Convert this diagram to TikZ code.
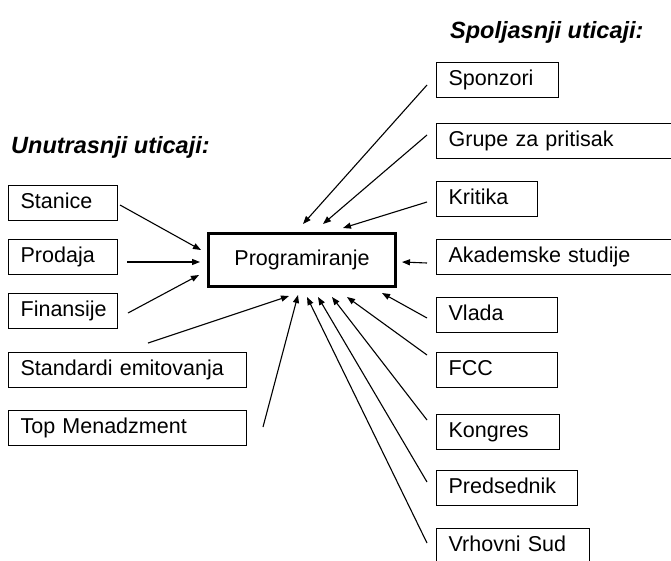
\documentclass[tikz,border=0pt]{standalone}
\usepackage{fontspec}
\setmainfont{Liberation Sans}
\usetikzlibrary{arrows.meta}
\tikzset{
  ibox/.style={draw, line width=1.3pt, anchor=north west, inner xsep=12pt, inner ysep=0pt,
    minimum height=35pt, text width=#1, align=left, text height=15pt, text depth=4pt,
    font=\fontsize{21.5}{25}\selectfont},
  mainbox/.style={draw, line width=3pt, minimum width=187pt, minimum height=53pt,
    inner sep=0pt, font=\fontsize{21.5}{25}\selectfont},
  title/.style={anchor=west, inner sep=0pt, font=\fontsize{23.5}{28}\selectfont\bfseries\itshape},
  conn/.style={line width=1.1pt, -{Triangle[length=8pt,width=6pt]}}
}
\begin{document}
\begin{tikzpicture}[x=1pt,y=-1pt]
\clip (0,0) rectangle (671,560);
\fill[white] (0,0) rectangle (671,560);
% titles
\node[title] (tleft) at (11,147) {Unutrasnji uticaji:};
\node[title] (tright) at (450,32) {Spoljasnji uticaji:};
% central
\node[mainbox] (prog) at (302,260) {Programiranje};
% left boxes
\node[ibox=85pt] (stanice) at (8,185) {Stanice};
\node[ibox=85pt] (prodaja) at (8,239) {Prodaja};
\node[ibox=85pt] (finansije) at (8,293) {Finansije};
\node[ibox=214pt] (standardi) at (8,352) {Standardi emitovanja};
\node[ibox=214pt] (topmen) at (8,410) {Top Menadzment};
% right boxes
\node[ibox=98pt] (sponzori) at (436,62) {Sponzori};
\node[ibox=240pt] (grupe) at (436,123) {Grupe za pritisak};
\node[ibox=77pt] (kritika) at (436,181) {Kritika};
\node[ibox=240pt] (akad) at (436,239) {Akademske studije};
\node[ibox=97pt] (vlada) at (436,297) {Vlada};
\node[ibox=97pt] (fcc) at (436,352) {FCC};
\node[ibox=99pt] (kongres) at (436,414) {Kongres};
\node[ibox=117pt] (predsednik) at (436,470) {Predsednik};
\node[ibox=129pt] (vrhovni) at (436,528) {Vrhovni Sud};
% connector free ends (sources)
\coordinate (sStanice) at (120,205);
\coordinate (sProdaja) at (127,262);
\coordinate (sFinansije) at (128,313);
\coordinate (sStandardi) at (148,343);
\coordinate (sTopmen) at (263,427);
\coordinate (sSponzori) at (427,85);
\coordinate (sGrupe) at (427,135);
\coordinate (sKritika) at (427,202);
\coordinate (sAkad) at (427,263);
\coordinate (sVlada) at (427,318);
\coordinate (sFcc) at (427,355);
\coordinate (sKongres) at (427,420);
\coordinate (sPredsednik) at (427,482);
\coordinate (sVrhovni) at (427,543);
% connector tips near the central box
\coordinate (tStanice) at (201,250);
\coordinate (tProdaja) at (200,262);
\coordinate (tFinansije) at (199,275);
\coordinate (tStandardi) at (289,296);
\coordinate (tTopmen) at (298,295);
\coordinate (tSponzori) at (303,224);
\coordinate (tGrupe) at (323,224);
\coordinate (tKritika) at (343,228);
\coordinate (tAkad) at (402,262);
\coordinate (tVlada) at (382,293);
\coordinate (tFcc) at (347,297);
\coordinate (tKongres) at (332,297);
\coordinate (tPredsednik) at (318,297);
\coordinate (tVrhovni) at (307,297);
% connectors
\draw[conn] (sStanice) -- (tStanice);
\draw[conn] (sProdaja) -- (tProdaja);
\draw[conn] (sFinansije) -- (tFinansije);
\draw[conn] (sStandardi) -- (tStandardi);
\draw[conn] (sTopmen) -- (tTopmen);
\draw[conn] (sSponzori) -- (tSponzori);
\draw[conn] (sGrupe) -- (tGrupe);
\draw[conn] (sKritika) -- (tKritika);
\draw[conn] (sAkad) -- (tAkad);
\draw[conn] (sVlada) -- (tVlada);
\draw[conn] (sFcc) -- (tFcc);
\draw[conn] (sKongres) -- (tKongres);
\draw[conn] (sPredsednik) -- (tPredsednik);
\draw[conn] (sVrhovni) -- (tVrhovni);
\end{tikzpicture}
\end{document}
